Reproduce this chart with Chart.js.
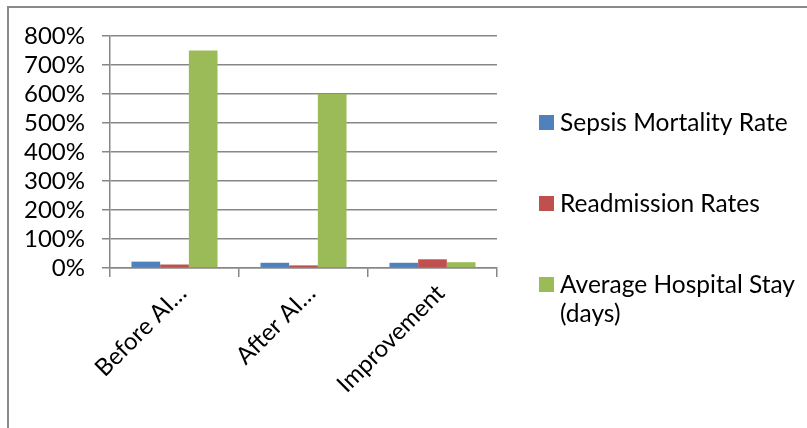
<!DOCTYPE html>
<html>
<head>
<meta charset="utf-8">
<script src="https://cdn.jsdelivr.net/npm/chart.js@4.4.1/dist/chart.umd.min.js"></script>
<style>
  html, body { margin: 0; padding: 0; background: #ffffff; overflow: hidden; }
  #wrap { position: relative; width: 807px; height: 428px; }
  #frame { position: absolute; left: 7px; top: 6px; width: 900px; height: 500px;
           border-left: 2px solid #8a8a8a; border-top: 2px solid #8a8a8a; box-sizing: border-box; }
  canvas { position: absolute; left: 0; top: 0; }
</style>
</head>
<body>
<div id="wrap">
  <div id="frame"></div>
  <canvas id="chart" width="807" height="428"></canvas>
</div>
<script>
// Categories along the x axis
const categories = ['Before AI…', 'After AI…', 'Improvement'];

// Series values, in percent
const sepsisMortality = [22, 18, 18];
const readmissionRates = [12, 9, 30];
const avgHospitalStay = [750, 600, 20];

// Series names and colours
const seriesNames = ['Sepsis Mortality Rate', 'Readmission Rates', 'Average Hospital Stay (days)'];
const seriesColors = ['#4F81BD', '#C0504D', '#9BBB59'];

// Value axis ticks
const yTickValues = [0, 100, 200, 300, 400, 500, 600, 700, 800];

const FONT = 'Lato';
const GRID = '#878787';

// Legend drawn to the right of the plot, with word wrapping
const sideLegend = {
  id: 'sideLegend',
  afterDraw(chart) {
    const ctx = chart.ctx;
    const area = chart.chartArea;
    const boxX = area.right + 42;
    const textX = boxX + 21;
    const maxW = chart.width - textX - 2;
    const centers = [122, 203, 284];
    const lineH = 29;
    ctx.save();
    ctx.font = '24.5px ' + FONT;
    ctx.textBaseline = 'middle';
    ctx.textAlign = 'left';
    chart.data.datasets.forEach((ds, i) => {
      const cy = centers[i];
      ctx.fillStyle = ds.backgroundColor;
      ctx.fillRect(boxX, cy - 7, 15, 15);
      // wrap words
      const words = ds.label.split(' ');
      const lines = [];
      let cur = '';
      words.forEach(w => {
        const test = cur ? cur + ' ' + w : w;
        if (ctx.measureText(test).width > maxW && cur) { lines.push(cur); cur = w; }
        else cur = test;
      });
      if (cur) lines.push(cur);
      ctx.fillStyle = '#000000';
      lines.forEach((ln, k) => ctx.fillText(ln, textX, cy + 1 + k * lineH));
    });
    ctx.restore();
  }
};

new Chart(document.getElementById('chart'), {
  type: 'bar',
  data: {
    labels: categories,
    datasets: [
      { label: seriesNames[0], data: sepsisMortality, backgroundColor: seriesColors[0] },
      { label: seriesNames[1], data: readmissionRates, backgroundColor: seriesColors[1] },
      { label: seriesNames[2], data: avgHospitalStay, backgroundColor: seriesColors[2] }
    ]
  },
  options: {
    responsive: false,
    animation: false,
    devicePixelRatio: 1,
    categoryPercentage: 0.667,
    barPercentage: 1.0,
    layout: { padding: { top: 36, right: 310, bottom: 0, left: 0 } },
    plugins: {
      legend: { display: false },
      tooltip: { enabled: false }
    },
    scales: {
      x: {
        afterFit(s) { s.height = 160; },
        grid: { display: true, drawOnChartArea: false, offset: true, color: GRID, lineWidth: 1.5, tickLength: 9 },
        border: { display: true, color: GRID, width: 1.5 },
        ticks: {
          color: '#000000',
          font: { family: FONT, size: 24 },
          minRotation: 45, maxRotation: 45,
          autoSkip: false,
          labelOffset: 8,
          padding: 2
        }
      },
      y: {
        min: 0, max: 800,
        afterFit(s) { s.width = 110; },
        afterBuildTicks(s) { s.ticks = yTickValues.map(v => ({ value: v })); },
        grid: { color: GRID, lineWidth: 1.5, tickLength: 8 },
        border: { display: true, color: GRID, width: 1.5 },
        ticks: {
          color: '#000000',
          font: { family: FONT, size: 24 },
          autoSkip: false,
          padding: 17,
          callback: v => v + '%'
        }
      }
    }
  },
  plugins: [sideLegend]
});
</script>
</body>
</html>
